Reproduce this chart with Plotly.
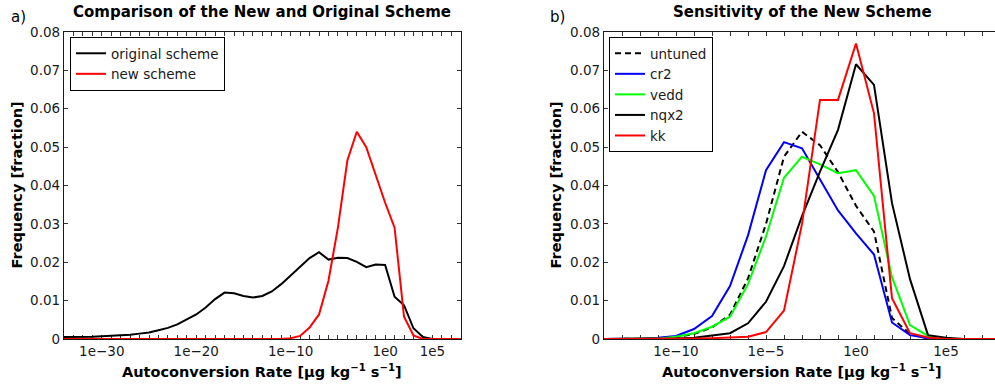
import plotly.graph_objects as go

# ---- data -------------------------------------------------------------
# bin exponents (log10 of autoconversion rate)
exp_a = list(range(-34, 9))
exp_b = list(range(-14, 9))

original_scheme = [0.0005, 0.0005, 0.0006, 0.0006, 0.0007, 0.0008, 0.0009, 0.0011, 0.0014, 0.0017,
                   0.0023, 0.0029, 0.0038, 0.0050, 0.0064, 0.0082, 0.0104, 0.0121, 0.0119, 0.0112,
                   0.0108, 0.0112, 0.0124, 0.0143, 0.0166, 0.0188, 0.0211, 0.0226, 0.0207, 0.0212,
                   0.0211, 0.0201, 0.0187, 0.0194, 0.0193, 0.0110, 0.0088, 0.0028, 0.0005, 0.0,
                   0.0, 0.0, 0.0]
new_scheme = [0.0] * 24 + [0.0002, 0.0008, 0.0030, 0.0064, 0.0152, 0.0290, 0.0465, 0.0540, 0.0500,
                           0.0425, 0.0355, 0.0290, 0.0058, 0.0009, 0.0, 0.0, 0.0, 0.0, 0.0]

untuned = [0.0, 0.0, 0.0, 0.0001, 0.0005, 0.0013, 0.0030, 0.0063, 0.0158, 0.0300, 0.0475, 0.0540,
           0.0505, 0.0435, 0.0347, 0.0280, 0.0055, 0.0013, 0.0001, 0.0, 0.0, 0.0, 0.0]
cr2 = [0.0, 0.0, 0.0001, 0.0003, 0.0008, 0.0026, 0.0060, 0.0138, 0.0270, 0.0440, 0.0513, 0.0497,
       0.0415, 0.0335, 0.0275, 0.0220, 0.0043, 0.0010, 0.0002, 0.0, 0.0, 0.0, 0.0]
vedd = [0.0, 0.0, 0.0, 0.0001, 0.0006, 0.0015, 0.0032, 0.0058, 0.0143, 0.0267, 0.0420, 0.0475,
        0.0455, 0.0432, 0.0440, 0.0373, 0.0161, 0.0036, 0.0008, 0.0, 0.0, 0.0, 0.0]
nqx2 = [0.0, 0.0, 0.0, 0.0, 0.0001, 0.0003, 0.0009, 0.0015, 0.0041, 0.0097, 0.0190, 0.0320,
        0.0436, 0.0545, 0.0716, 0.0662, 0.0354, 0.0156, 0.0010, 0.0003, 0.0, 0.0, 0.0]
kk = [0.0, 0.0, 0.0, 0.0, 0.0, 0.0001, 0.0002, 0.0004, 0.0006, 0.0018, 0.0074, 0.0300,
      0.0623, 0.0623, 0.0770, 0.0588, 0.0106, 0.0015, 0.0004, 0.0, 0.0, 0.0, 0.0]

labels_a = {-30: "1e\u221230", -20: "1e\u221220", -10: "1e\u221210", 0: "1e0", 5: "1e5"}
labels_b = {-10: "1e\u221210", -5: "1e\u22125", 0: "1e0", 5: "1e5"}
y_ticks = [0, 0.01, 0.02, 0.03, 0.04, 0.05, 0.06, 0.07, 0.08]
y_labels = ["0", "0.01", "0.02", "0.03", "0.04", "0.05", "0.06", "0.07", "0.08"]

# ---- figure geometry --------------------------------------------------
W, H = 995, 387
ML, MR, MT, MB = 64, 0, 32, 48
PW, PH = W - ML - MR, H - MT - MB


def px_x(p):
    return (p - ML) / PW


def px_y(p):
    return 1 - (p - MT) / PH


FONT = "DejaVu Sans, Liberation Sans, Arial, sans-serif"
INK = "#1a1a1a"
TICK_SIZE = 13.5

fig = go.Figure()

xa = [10.0 ** e for e in exp_a]
xb = [10.0 ** e for e in exp_b]

fig.add_trace(go.Scatter(x=xa, y=original_scheme, mode="lines", name="original scheme",
                         line=dict(color="#000000", width=2), xaxis="x", yaxis="y",
                         legend="legend"))
fig.add_trace(go.Scatter(x=xa, y=new_scheme, mode="lines", name="new scheme",
                         line=dict(color="#ff0000", width=2), xaxis="x", yaxis="y",
                         legend="legend"))

series_b = [
    ("untuned", untuned, "#000000", "6px,4px"),
    ("cr2", cr2, "#0000ff", "solid"),
    ("vedd", vedd, "#00ff00", "solid"),
    ("nqx2", nqx2, "#000000", "solid"),
    ("kk", kk, "#ff0000", "solid"),
]
for name, vals, col, dash in series_b:
    fig.add_trace(go.Scatter(x=xb, y=vals, mode="lines", name=name,
                             line=dict(color=col, width=2, dash=dash),
                             xaxis="x2", yaxis="y2", legend="legend2"))


def xaxis_cfg(exps, labels, rng, domain, anchor):
    return dict(
        type="log", range=rng, domain=domain, anchor=anchor,
        tickmode="array",
        tickvals=[10.0 ** e for e in exps],
        ticktext=[labels.get(e, "") for e in exps],
        ticks="inside", ticklen=4, tickwidth=1, tickcolor="#333333",
        showline=True, linecolor=INK, linewidth=1.3, mirror="ticks",
        showgrid=False, zeroline=False, layer="below traces",
        tickfont=dict(family=FONT, size=TICK_SIZE, color=INK),
    )


def yaxis_cfg(anchor, mirror):
    return dict(
        range=[0, 0.08], anchor=anchor,
        tickmode="array", tickvals=y_ticks, ticktext=y_labels,
        ticks="inside", ticklen=4, tickwidth=1, tickcolor="#333333",
        showline=True, linecolor=INK, linewidth=1.3, mirror=mirror,
        showgrid=False, zeroline=False, layer="below traces",
        tickfont=dict(family=FONT, size=TICK_SIZE, color=INK),
    )


right_end = -14 + (W - 604) / 18.0

legend_style = dict(xanchor="left", yanchor="top", bgcolor="white",
                    bordercolor="#000000", borderwidth=1, tracegroupgap=0,
                    font=dict(family=FONT, size=TICK_SIZE, color=INK))

fig.update_layout(
    width=W, height=H,
    margin=dict(l=ML, r=MR, t=MT, b=MB, pad=0),
    paper_bgcolor="white", plot_bgcolor="white",
    font=dict(family=FONT, size=TICK_SIZE, color=INK),
    xaxis=xaxis_cfg(exp_a, labels_a, [-34, 8], [0, px_x(460.7)], "y"),
    yaxis=yaxis_cfg("x", "ticks"),
    xaxis2=xaxis_cfg(exp_b, labels_b, [-14, right_end], [px_x(604), 1], "y2"),
    yaxis2=yaxis_cfg("x2", False),
    legend=dict(x=px_x(70), y=px_y(37), **legend_style),
    legend2=dict(x=px_x(609), y=px_y(37), **legend_style),
    showlegend=True,
)

xtitle = "Autoconversion Rate [\u03bcg kg<sup>\u22121</sup> s<sup>\u22121</sup>]"
ann = [
    dict(text="<b>Comparison of the New and Original Scheme</b>", x=px_x(262), y=px_y(12),
         size=15),
    dict(text="<b>Sensitivity of the New Scheme</b>", x=px_x(802), y=px_y(12), size=15),
    dict(text="a)", x=px_x(18), y=px_y(17), size=15),
    dict(text="b)", x=px_x(557), y=px_y(17), size=15),
    dict(text="<b>Frequency [fraction]</b>", x=px_x(16), y=px_y(185.5), textangle=-90,
         size=14.5),
    dict(text="<b>Frequency [fraction]</b>", x=px_x(555), y=px_y(185.5), textangle=-90,
         size=14.5),
    dict(text="<b>" + xtitle + "</b>", x=px_x(262), y=px_y(371), size=14.5),
    dict(text="<b>" + xtitle + "</b>", x=px_x(802), y=px_y(371), size=14.5),
]
for a in ann:
    size = a.pop("size")
    a.update(xref="paper", yref="paper", showarrow=False, xanchor="center", yanchor="middle",
             font=dict(family=FONT, color="#000000", size=size))
fig.update_layout(annotations=ann)

fig.write_html("out.html")
